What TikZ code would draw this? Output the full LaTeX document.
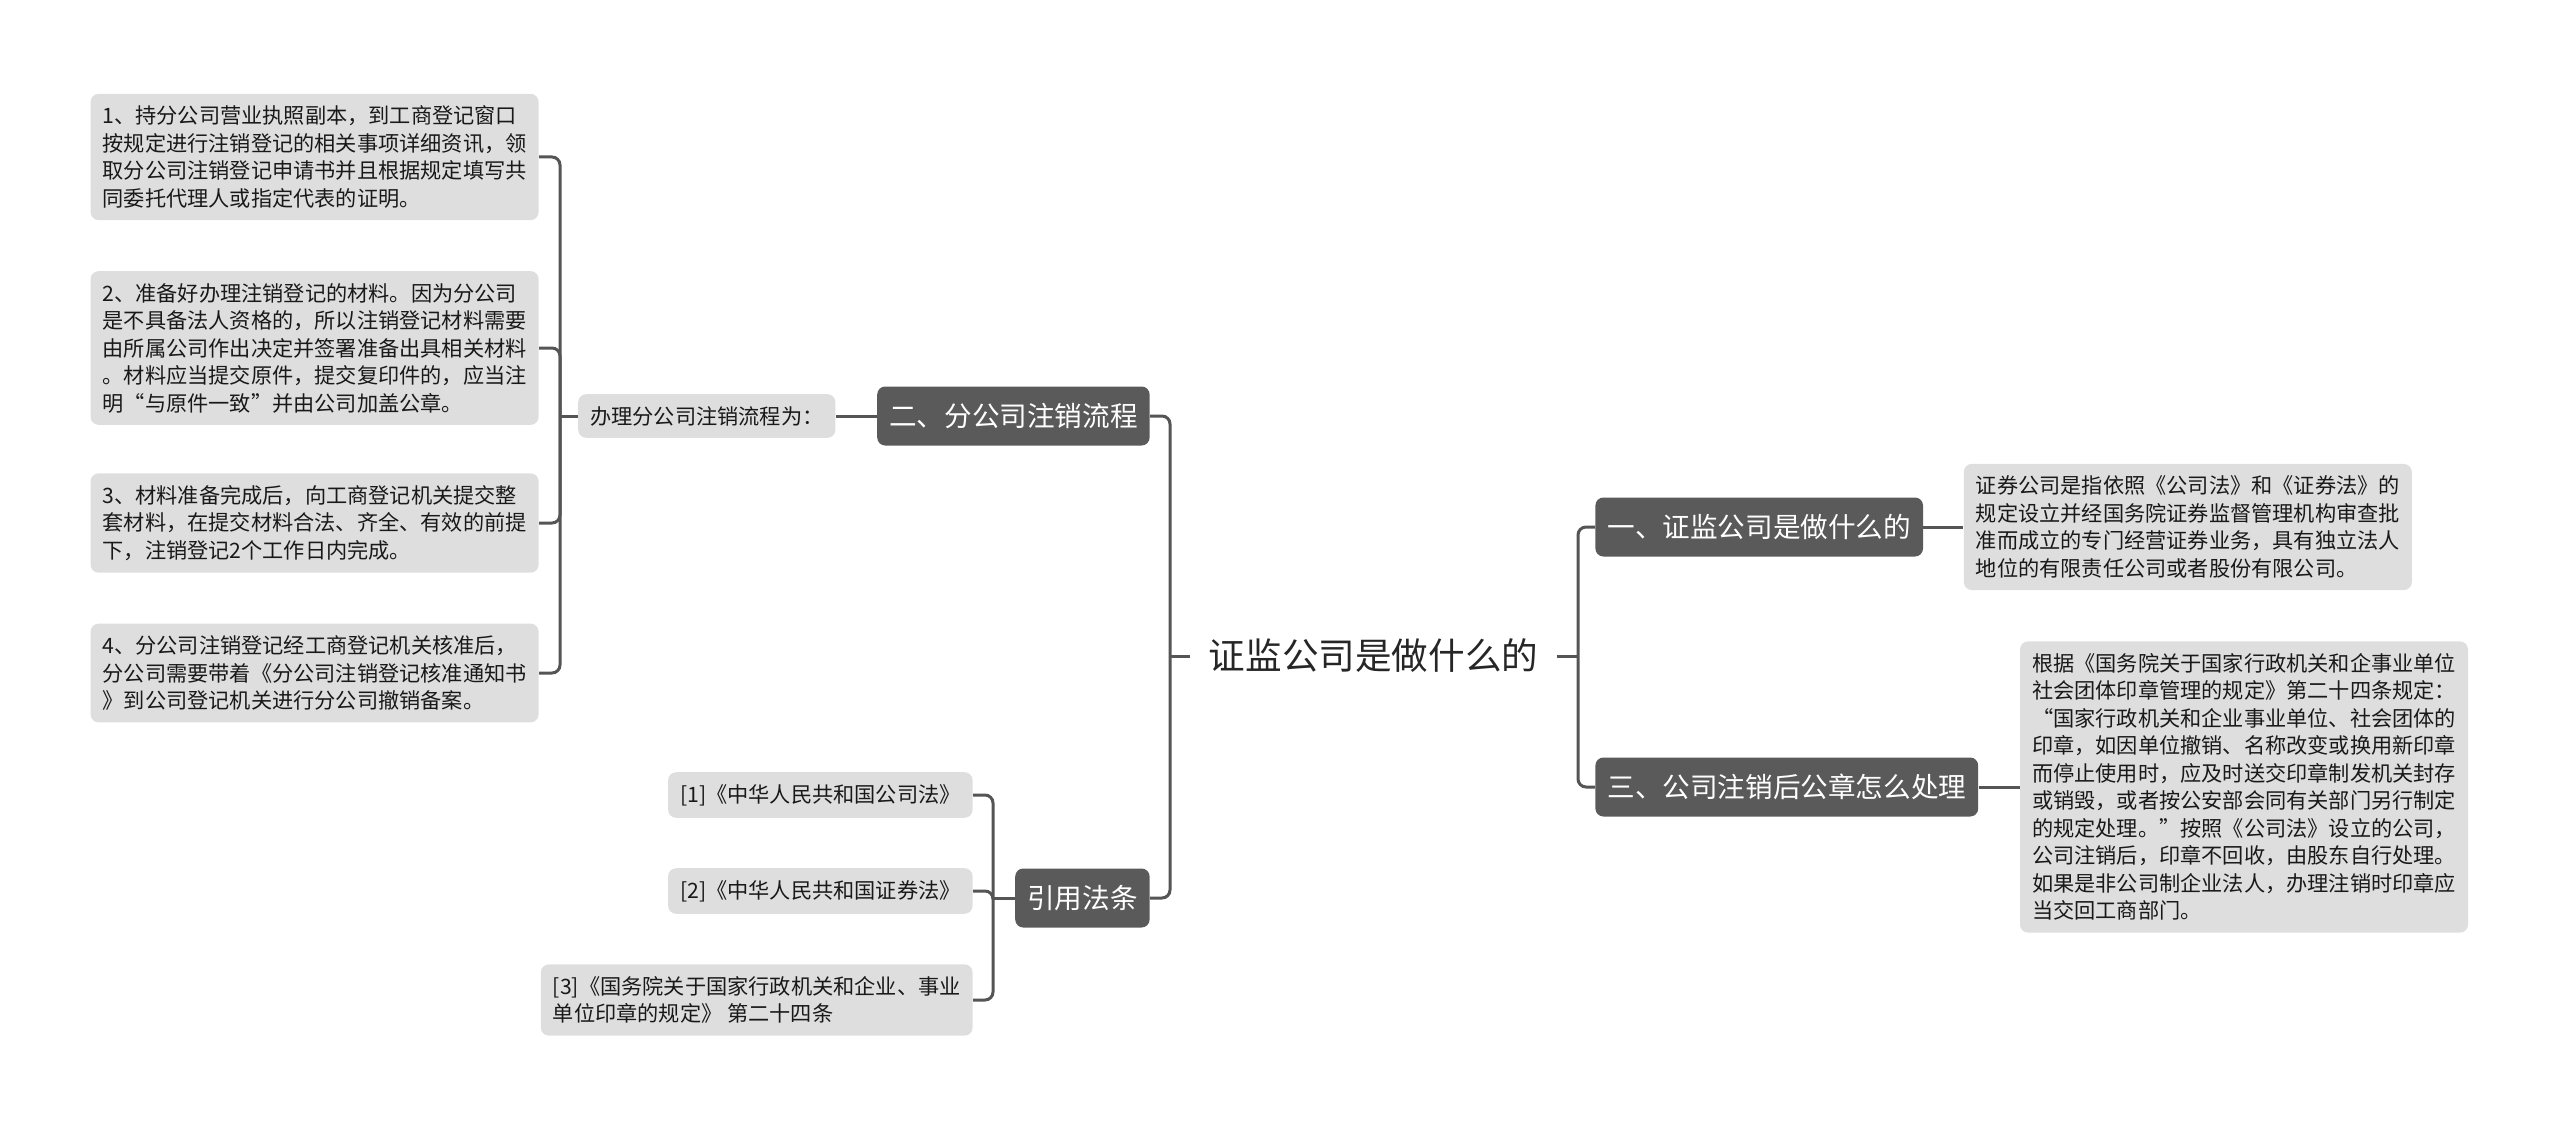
\documentclass[tikz,border=0pt]{standalone}
\usepackage{fontspec}
\setmainfont{Noto Sans CJK SC}
\usepackage{tikz}
\usetikzlibrary{positioning}
\definecolor{topicgray}{HTML}{5A5A5A}
\definecolor{leafgray}{HTML}{DEDEDE}
\definecolor{linegray}{HTML}{555555}

\begin{document}
\begin{tikzpicture}[x=0.5pt,y=-0.5pt,node distance=20pt,root/.style={inner xsep=9pt,inner ysep=6pt,text=black!85,font=\fontsize{18.3}{22}\selectfont},topic/.style={fill=topicgray,text=white,rounded corners=4pt,minimum height=29.5pt,inner xsep=6pt,font=\fontsize{13.8}{16}\selectfont},leaf/.style={fill=leafgray,text=black!90,rounded corners=4pt,align=left,inner xsep=6pt,inner ysep=6pt,font=\fontsize{10.6}{13.75}\selectfont},link/.style={draw=linegray,line width=1.5pt,rounded corners=4pt}]
\useasboundingbox (0,0) rectangle (2560,1129);
\node[root] (root) at (1373.5,656) {证监公司是做什么的};
\node[topic,anchor=east] (sec2) at (1150,416) {二、分公司注销流程};
\node[topic,anchor=east] (cite) at (1150,898) {引用法条};
\node[topic,anchor=west] (sec1) at (1595,527) {一、证监公司是做什么的};
\node[topic,anchor=west] (sec3) at (1595,787) {三、公司注销后公章怎么处理};
\node[leaf,left=20.5pt of sec2] (step) {办理分公司注销流程为：};
\node[leaf,anchor=east] (item1) at (539,157) {1、持分公司营业执照副本，到工商登记窗口\\按规定进行注销登记的相关事项详细资讯，领\\取分公司注销登记申请书并且根据规定填写共\\同委托代理人或指定代表的证明。};
\node[leaf,anchor=east] (item2) at (539,348) {2、准备好办理注销登记的材料。因为分公司\\是不具备法人资格的，所以注销登记材料需要\\由所属公司作出决定并签署准备出具相关材料\\。材料应当提交原件，提交复印件的，应当注\\明“与原件一致”并由公司加盖公章。};
\node[leaf,anchor=east] (item3) at (539,523) {3、材料准备完成后，向工商登记机关提交整\\套材料，在提交材料合法、齐全、有效的前提\\下，注销登记2个工作日内完成。};
\node[leaf,anchor=east] (item4) at (539,673) {4、分公司注销登记经工商登记机关核准后，\\分公司需要带着《分公司注销登记核准通知书\\》到公司登记机关进行分公司撤销备案。};
\node[leaf,anchor=east] (law1) at (973,795) {[1]《中华人民共和国公司法》};
\node[leaf,anchor=east] (law2) at (973,891) {[2]《中华人民共和国证券法》};
\node[leaf,anchor=east] (law3) at (973,1000) {[3]《国务院关于国家行政机关和企业、事业\\单位印章的规定》 第二十四条};
\node[leaf,right=of sec1] (what) {证券公司是指依照《公司法》和《证券法》的\\规定设立并经国务院证券监督管理机构审查批\\准而成立的专门经营证券业务，具有独立法人\\地位的有限责任公司或者股份有限公司。};
\node[leaf,right=20.5pt of sec3] (seal) {根据《国务院关于国家行政机关和企事业单位\\社会团体印章管理的规定》第二十四条规定：\\“国家行政机关和企业事业单位、社会团体的\\印章，如因单位撤销、名称改变或换用新印章\\而停止使用时，应及时送交印章制发机关封存\\或销毁，或者按公安部会同有关部门另行制定\\的规定处理。”按照《公司法》设立的公司，\\公司注销后，印章不回收，由股东自行处理。\\如果是非公司制企业法人，办理注销时印章应\\当交回工商部门。};
\coordinate (lbus) at (1170,656); \coordinate (rbus) at (1578,656);
\coordinate (ibus) at (560,416); \coordinate (cbus) at (993,898);
\draw[link] (root.west)--(lbus); \draw[link] (lbus)|-(sec2.east); \draw[link] (lbus)|-(cite.east);
\draw[link] (root.east)--(rbus); \draw[link] (rbus)|-(sec1.west); \draw[link] (rbus)|-(sec3.west);
\draw[link] (sec2.west)--(step.east); \draw[link] (step.west)--(ibus);
\foreach \n in {item1,item2,item3,item4} \draw[link] (ibus)|-(\n.east);
\draw[link] (cite.west)--(cbus);
\foreach \n in {law1,law2,law3} \draw[link] (cbus)|-(\n.east);
\draw[link] (sec1.east)--(what.west); \draw[link] (sec3.east)--(seal.west);
\end{tikzpicture}
\end{document}
